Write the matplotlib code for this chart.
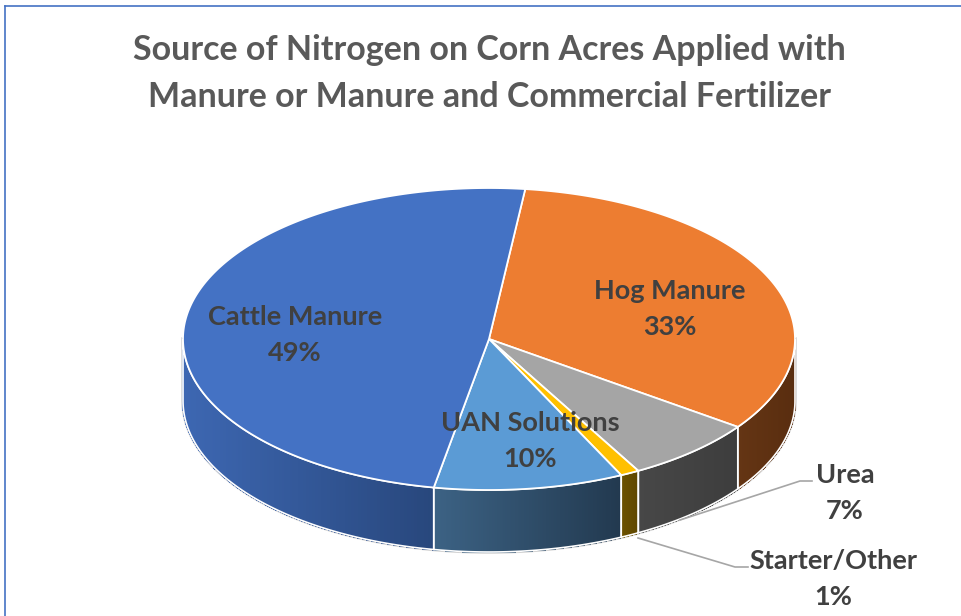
import numpy as np
import matplotlib
matplotlib.use("Agg")
import matplotlib.pyplot as plt
from matplotlib.patches import Polygon
from matplotlib.colors import to_rgb

# Data (clockwise from the top boundary)
categories = ["Hog Manure", "Urea", "Starter/Other", "UAN Solutions", "Cattle Manure"]
shares = [33, 7, 1, 10, 49]
top_colors = ["#ED7D31", "#A5A5A5", "#FFC000", "#5B9BD5", "#4472C4"]
side_light = ["#643514", "#474747", "#6B5100", "#3C6284", "#3D67B2"]
side_dark = ["#592D0F", "#3D3D3D", "#5E4600", "#22394F", "#28477C"]

title = "Source of Nitrogen on Corn Acres Applied with\nManure or Manure and Commercial Fertilizer"

# pie geometry (pixels)
CX, CY, A, B, DEPTH = 489, 339, 306, 151, 62
START = 6.8
FONT = "Lato"
TXT = "#404040"


def pt(phi, dy=0.0):
    r = np.radians(phi)
    return CX + A * np.sin(r), CY - B * np.cos(r) + dy


def arc(p1, p2, dy=0.0, n=80):
    phis = np.linspace(p1, p2, n)
    return [pt(p, dy) for p in phis]


fig = plt.figure(figsize=(9.61, 6.16), dpi=100)
ax = fig.add_axes([0, 0, 1, 1])
ax.set_xlim(0, 961)
ax.set_ylim(616, 0)
ax.axis("off")

# chart border (left & top visible)
ax.plot([4.5, 4.5], [616, 5.5], color="#4472C4", lw=1.2)
ax.plot([4.5, 961], [5.5, 5.5], color="#4472C4", lw=1.2)

bounds = START + 3.6 * np.concatenate([[0], np.cumsum(shares)])

# outer rim shadow
rim = [pt(90)] + arc(90, 270, DEPTH) + [pt(270)]
ax.plot([p[0] for p in rim], [p[1] for p in rim], color="#D0D0D0", lw=2.5, zorder=1)

# side walls (front half only), light on the left, dark on the right
for i in range(len(shares)):
    p1, p2 = bounds[i], bounds[i + 1]
    for lo, hi in [(90, 270), (450, 630)]:
        s, e = max(p1, lo), min(p2, hi)
        if e <= s:
            continue
        xs0, xs1 = pt(s)[0], pt(e)[0]
        xmin, span = min(xs0, xs1), max(abs(xs1 - xs0), 1e-6)
        c1, c2 = np.array(to_rgb(side_light[i])), np.array(to_rgb(side_dark[i]))
        edges = np.linspace(s, e, 121)
        for k in range(120):
            a0, a1 = edges[k], edges[k + 1]
            xm = (pt(a0)[0] + pt(a1)[0]) / 2
            t = np.clip((xm - xmin) / span, 0, 1)
            col = c1 + (c2 - c1) * t
            poly = [pt(a0), pt(a1), pt(a1, DEPTH), pt(a0, DEPTH)]
            ax.add_patch(Polygon(poly, closed=True, fc=col, ec=col, lw=0.8,
                                 antialiased=False, zorder=2))
        outline = arc(s, e) + arc(e, s, DEPTH)
        ax.add_patch(Polygon(outline, closed=True, fill=False, ec="white", lw=1.2, zorder=3))

# top face
for i in range(len(shares)):
    p1, p2 = bounds[i], bounds[i + 1]
    poly = [(CX, CY)] + arc(p1, p2, 0, 200)
    ax.add_patch(Polygon(poly, closed=True, fc=top_colors[i], ec="white", lw=1.3, zorder=4))

# title
for j, line in enumerate(title.split("\n")):
    ax.text(489, 50 + 47 * j, line, ha="center", va="center", fontsize=24.5,
            fontweight="bold", family=FONT, color="#595959")

# data labels
label_pos = {
    "Cattle Manure": (295, 317),
    "Hog Manure": (670, 291),
    "UAN Solutions": (530, 423),
    "Urea": (845, 475),
    "Starter/Other": (833, 561),
}
for name, val in zip(categories, shares):
    x, y = label_pos[name]
    ax.text(x, y, name, ha="center", va="center", fontsize=19.5, fontweight="bold",
            family=FONT, color=TXT, zorder=6)
    ax.text(x, y + 36, f"{val}%", ha="center", va="center", fontsize=19.5,
            fontweight="bold", family=FONT, color=TXT, zorder=6)

# leader lines
ax.plot([680, 800, 812], [520, 481, 481], color="#A6A6A6", lw=1.2, zorder=5)
ax.plot([638, 735, 748], [538, 567, 567], color="#A6A6A6", lw=1.2, zorder=5)

fig.savefig("out.png", dpi=100)
